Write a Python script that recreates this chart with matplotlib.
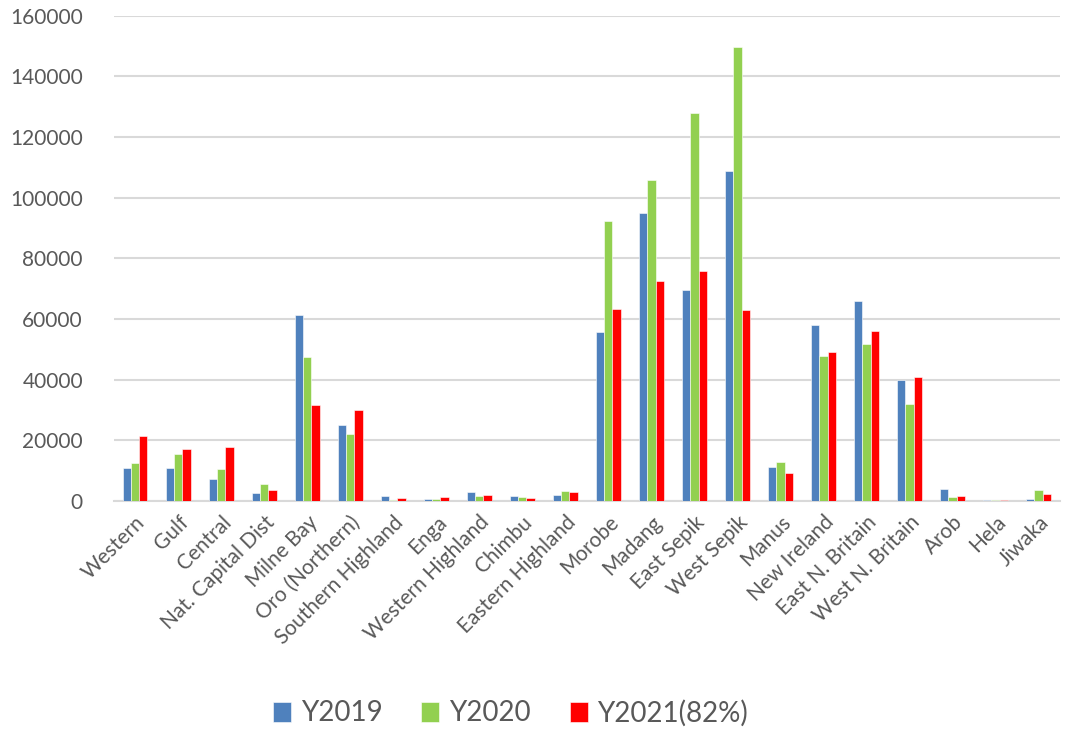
import numpy as np
import matplotlib.pyplot as plt

# Provinces and yearly totals
provinces = ['Western', 'Gulf', 'Central', 'Nat. Capital Dist', 'Milne Bay',
             'Oro (Northern)', 'Southern Highland', 'Enga', 'Western Highland',
             'Chimbu', 'Eastern Highland', 'Morobe', 'Madang', 'East Sepik',
             'West Sepik', 'Manus', 'New Ireland', 'East N. Britain',
             'West N. Britain', 'Arob', 'Hela', 'Jiwaka']
y2019 = [10800, 11000, 7300, 2600, 61200, 25000, 1550, 560, 2900, 1650, 2000,
         55600, 94800, 69500, 108800, 11100, 58000, 66000, 39900, 3800, 300, 800]
y2020 = [12600, 15500, 10500, 5600, 47400, 22200, 330, 760, 1650, 1300, 3200,
         92300, 105700, 127800, 149600, 12800, 47900, 51700, 32000, 1300, 250, 3600]
y2021 = [21500, 17300, 17900, 3700, 31700, 30000, 1000, 1400, 2000, 1000, 2900,
         63300, 72500, 75700, 62900, 9300, 49100, 56100, 40900, 1550, 200, 2400]

plt.rcParams['font.family'] = ['Lato', 'DejaVu Sans']
grey = '#595959'

fig = plt.figure(figsize=(10.66, 7.32), dpi=100)
ax = fig.add_axes([0.1065, 0.3156, 0.888, 0.663])

x = np.arange(len(provinces))
w = 0.193
kw = dict(width=w, edgecolor='#FFFFFF', linewidth=0.4, zorder=3)
ax.bar(x - w, y2019, color='#4F81BD', label='Y2019', **kw)
ax.bar(x, y2020, color='#92D050', label='Y2020', **kw)
ax.bar(x + w, y2021, color='#FF0000', label='Y2021(82%)', **kw)

ax.set_xlim(-0.5, len(provinces) - 0.5)
ax.set_ylim(0, 160000)
ax.set_yticks(np.arange(0, 160001, 20000))
ax.yaxis.grid(True, color='#D9D9D9', linewidth=1.5, zorder=0)
ax.set_axisbelow(True)
for s in ['top', 'right', 'left']:
    ax.spines[s].set_visible(False)
ax.spines['bottom'].set_color('#D9D9D9')
ax.spines['bottom'].set_linewidth(1.5)

ax.set_xticks(x)
ax.set_xticklabels(provinces, rotation=45, ha='right', rotation_mode='anchor',
                   fontsize=15, color=grey)
ax.tick_params(axis='x', length=0, pad=8)
ax.tick_params(axis='y', length=0, labelsize=15, labelcolor=grey, pad=22)

fig.legend(loc='center', bbox_to_anchor=(0.479, 0.026), ncol=3, frameon=False,
           fontsize=20, labelcolor=grey, handlelength=0.65, handleheight=0.75,
           columnspacing=1.4, handletextpad=0.35)

fig.savefig('out.png', dpi=100)
